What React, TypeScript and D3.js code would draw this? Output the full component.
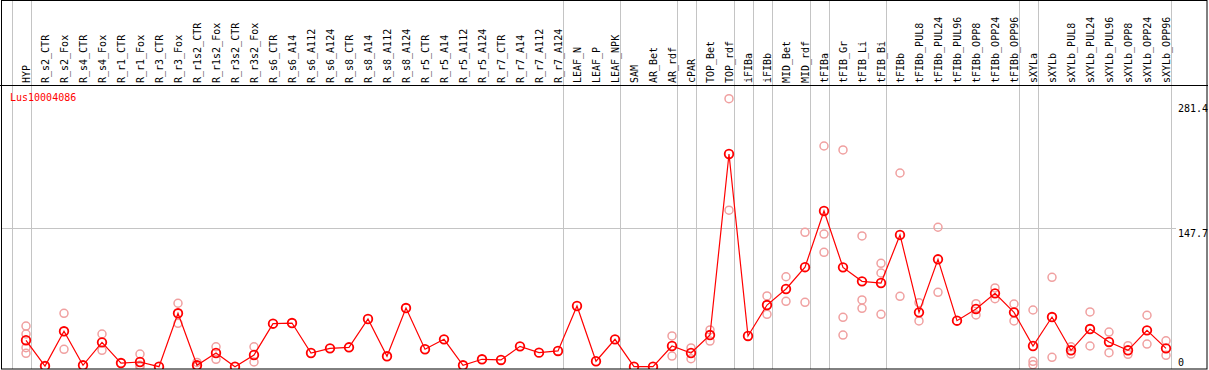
import React from "react";
import * as d3 from "d3";

const categories = [
  "HYP", "R_s2_CTR", "R_s2_Fox", "R_s4_CTR", "R_s4_Fox", "R_r1_CTR", "R_r1_Fox", "R_r3_CTR", "R_r3_Fox",
  "R_r1s2_CTR", "R_r1s2_Fox", "R_r3s2_CTR", "R_r3s2_Fox", "R_s6_CTR", "R_s6_A14", "R_s6_A112", "R_s6_A124",
  "R_s8_CTR", "R_s8_A14", "R_s8_A112", "R_s8_A124", "R_r5_CTR", "R_r5_A14", "R_r5_A112", "R_r5_A124",
  "R_r7_CTR", "R_r7_A14", "R_r7_A112", "R_r7_A124", "LEAF_N", "LEAF_P", "LEAF_NPK", "SAM", "AR_Bet", "AR_rdf",
  "cPAR", "TOP_Bet", "TOP_rdf", "iFIBa", "iFIBb", "MID_Bet", "MID_rdf", "tFIBa", "tFIB_Gr", "tFIB_Li", "tFIB_Bi",
  "tFIBb", "tFIBb_PUL8", "tFIBb_PUL24", "tFIBb_PUL96", "tFIBb_OPP8", "tFIBb_OPP24", "tFIBb_OPP96", "sXYLa",
  "sXYLb", "sXYLb_PUL8", "sXYLb_PUL24", "sXYLb_PUL96", "sXYLb_OPP8", "sXYLb_OPP24", "sXYLb_OPP96",
];

const means = [
  28.2, 0.7, 37.8, 1.5, 26, 3.9, 5, 0, 57,
  1.5, 14.6, 0, 12.5, 45.9, 46.6, 14.6, 19.6,
  20.7, 50.9, 11.1, 62.6, 18.6, 29.2, 1.5, 7.9,
  7.2, 21.7, 15, 16.8, 64.8, 5.8, 29.2, 0, 0, 22.1,
  14.6, 33.8, 227, 32.8, 65.8, 82.9, 106.2, 166.2, 106, 91.1, 89.3,
  140.6, 58, 114.6, 49.1, 61.6, 78.3, 58, 22.1,
  53, 17.5, 40.2, 26.4, 17.5, 38.8, 19.6,
];

const replicates: number[][] = [
  [43.4, 34.9, 20.3, 14.3], [], [57, 18.6], [], [34.9, 17.5], [], [13.5, 1.5, 0], [], [67.7, 46.3],
  [4.5, 0], [21.3, 7.9], [], [21.3, 5], [], [], [], [],
  [], [], [], [], [], [], [], [],
  [], [], [], [], [], [], [], [], [], [32.8, 11.4],
  [20, 8.5], [39.2, 27.4], [286, 167], [], [75.5, 55.9], [96, 69.8], [143.4, 68.7], [235.5, 141.5, 122], [231.3, 52.7, 33.8], [139.5, 71.2, 62.3], [110.3, 100, 55.9],
  [206.7, 75.1], [68.3, 48.8], [148.8, 79.4], [], [67.2, 55.2], [84, 72.6], [66.9, 48.8], [60.5, 5.7, 2.1],
  [95.4, 10], [21.3, 13.5], [58.4, 22.1], [37, 15], [22.4, 13.2], [54.9, 24.2], [27.7, 12.2],
];

const groupSizes = [1, 28, 3, 3, 1, 2, 1, 1, 2, 1, 3, 7, 1, 7];
const yTicks = [0, 147.7, 281.4];
const geneName = "Lus10004086";

const W = 1209;
const H = 370;
const FONT = "'DejaVu Sans Mono', monospace";

export default function App() {
  const x = d3.scaleBand<string>().domain(categories).range([11.5, 11.5 + 19 * categories.length]);
  const cx = (c: string) => (x(c) as number) + 14.5;
  const y = d3.scaleLinear().domain([0, 281.4]).range([366.7, 103]);

  const line = d3
    .line<number>()
    .x((_, i) => cx(categories[i]))
    .y((d) => y(d));

  const boundaries: number[] = [x(categories[0]) as number];
  let acc = 0;
  groupSizes.forEach((s) => {
    acc += s;
    boundaries.push((x(categories[acc - 1]) as number) + x.bandwidth());
  });

  const reps: { c: string; v: number }[] = [];
  replicates.forEach((arr, i) => arr.forEach((v) => reps.push({ c: categories[i], v })));

  return (
    <svg width={W} height={H} style={{ position: "absolute", left: 0, top: 0, background: "#fff" }}>
      <defs>
        <clipPath id="plotclip">
          <rect x={1} y={86} width={1206} height={283} />
        </clipPath>
      </defs>
      {boundaries.map((b, i) => (
        <line key={"v" + i} x1={Math.round(b) + 0.5} x2={Math.round(b) + 0.5} y1={0} y2={369} stroke="#c4c4c4" strokeWidth={1} />
      ))}
      {yTicks.filter((t) => t !== 0 && t !== 281.4).map((t) => (
        <line key={"h" + t} x1={1} x2={1176} y1={Math.round(y(t)) + 0.5} y2={Math.round(y(t)) + 0.5} stroke="#c4c4c4" strokeWidth={1} />
      ))}
      {categories.map((c) => (
        <text
          key={c}
          transform={`translate(${cx(c) + 3.5},83) rotate(-90)`}
          fontFamily={FONT}
          fontSize={10}
          fill="#000"
        >
          {c}
        </text>
      ))}
      <text x={10} y={101} fontFamily={FONT} fontSize={10} fill="#ff0000">
        {geneName}
      </text>
      {yTicks.map((t) => (
        <text key={"t" + t} x={1178} y={t === 0 ? 366 : y(t) + 9} fontFamily={FONT} fontSize={10} fill="#000">
          {t === 0 ? "0" : t.toFixed(1)}
        </text>
      ))}
      <g clipPath="url(#plotclip)">
        {reps.map((r, i) => (
          <circle key={"r" + i} cx={cx(r.c)} cy={y(r.v)} r={4} fill="none" stroke="#f0a0a0" strokeWidth={1.5} />
        ))}
        <path d={line(means) || ""} fill="none" stroke="#ff0000" strokeWidth={1.2} />
        {means.map((m, i) => (
          <circle key={"m" + i} cx={cx(categories[i])} cy={y(m)} r={4.3} fill="none" stroke="#ff0000" strokeWidth={1.8} />
        ))}
      </g>
      <line x1={0} x2={1208} y1={85.5} y2={85.5} stroke="#000" strokeWidth={1} />
      <rect x={1.5} y={0.5} width={1205.5} height={368.5} fill="none" stroke="#000" strokeWidth={1} />
    </svg>
  );
}
